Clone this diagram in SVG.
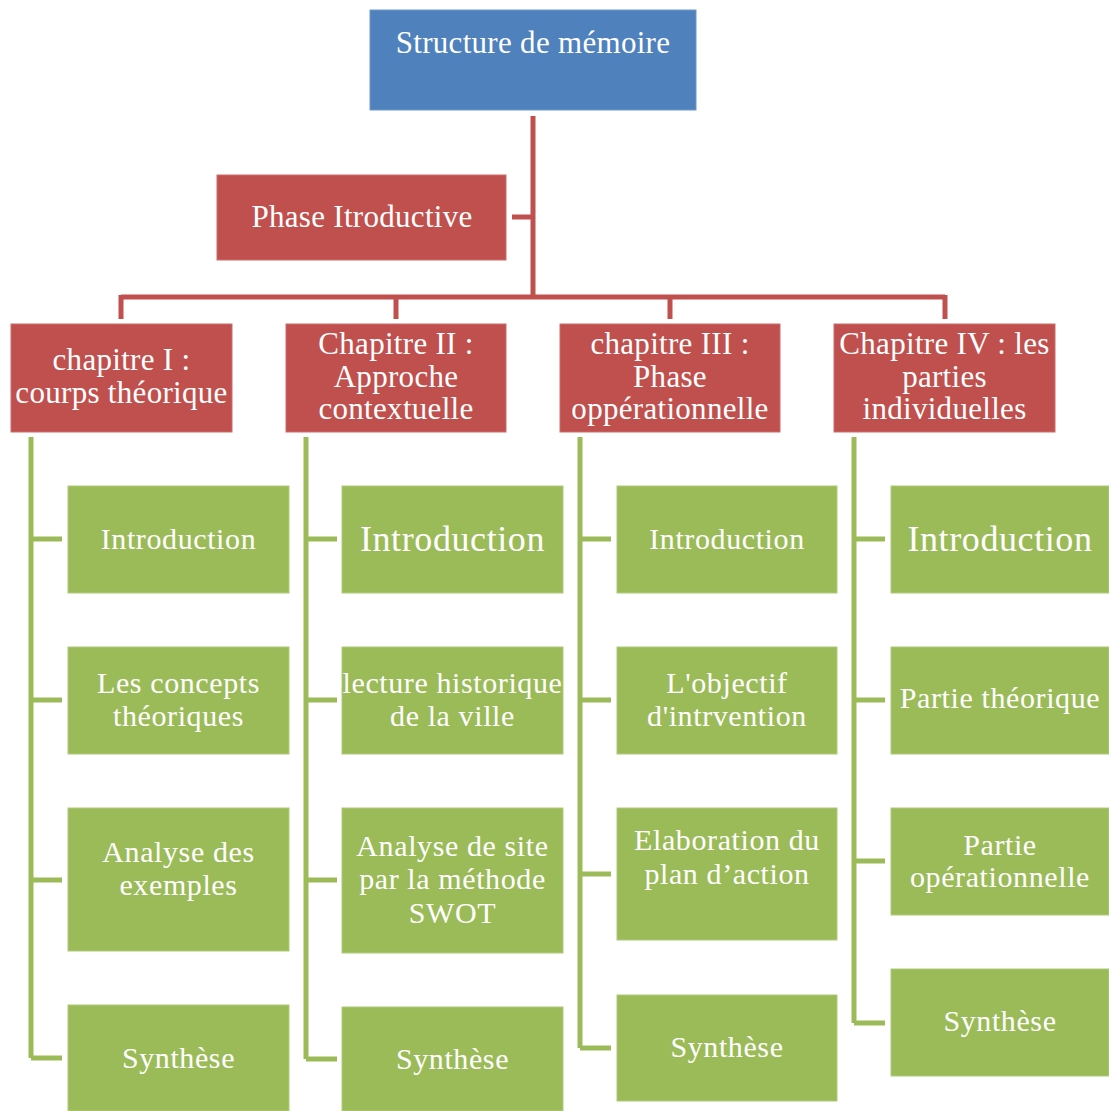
<svg xmlns="http://www.w3.org/2000/svg" width="1109" height="1111" viewBox="0 0 1109 1111">
<style>
text{font-family:"Liberation Serif","Times New Roman",serif;fill:#fff;text-anchor:middle}
.t{font-size:30px;letter-spacing:0.6px}
.r{font-size:31px;letter-spacing:0.3px}
.big{font-size:36px;letter-spacing:0.6px}
.blue{fill:#4F81BD;stroke:#6f98c9;stroke-width:1}
.red{fill:#C0504D;stroke:#cc6e6b;stroke-width:1}
.green{fill:#9BBB59;stroke:#b0ca7d;stroke-width:1}
.rl{fill:none;stroke:#C0504D;stroke-width:5}
.gl{fill:none;stroke:#9BBB59;stroke-width:5}
</style>
<rect width="1109" height="1111" fill="#fff"/>
<g id="connectors">
<path class="rl" d="M533 116V297M512 217H533M121 297H945M121 295V319M396 295V319M670 295V319M945 295V319"/>
<path class="gl" d="M31 437V1058M31 539H62M31 700H62M31 880H62M31 1058H62"/>
<path class="gl" d="M306 437V1059M306 539H337M306 700H337M306 880H337M306 1059H337"/>
<path class="gl" d="M580 437V1048M580 539H611M580 700H611M580 874H611M580 1048H611"/>
<path class="gl" d="M854 437V1023M854 539H885M854 700H885M854 861H885M854 1023H885"/>
</g>
<g id="root"><rect class="blue" x="370" y="10" width="326" height="100"/><text class="r" x="533" y="53">Structure de mémoire</text></g>
<g id="phase"><rect class="red" x="217" y="175" width="289" height="85"/><text class="r" x="362" y="227">Phase Itroductive</text></g>
<g id="ch1"><rect class="red" x="11" y="324" width="221" height="108"/><text class="r" x="121.5" y="370">chapitre I :</text><text class="r" x="121.5" y="403">courps théorique</text></g>
<g id="ch2"><rect class="red" x="286" y="324" width="220" height="108"/><text class="r" x="396" y="354">Chapitre II :</text><text class="r" x="396" y="387">Approche</text><text class="r" x="396" y="419">contextuelle</text></g>
<g id="ch3"><rect class="red" x="560" y="324" width="220" height="108"/><text class="r" x="670" y="354">chapitre III :</text><text class="r" x="670" y="387">Phase</text><text class="r" x="670" y="419">oppérationnelle</text></g>
<g id="ch4"><rect class="red" x="834" y="324" width="221" height="108"/><text class="r" x="944.5" y="354">Chapitre IV : les</text><text class="r" x="944.5" y="387">parties</text><text class="r" x="944.5" y="419">individuelles</text></g>

<g id="c1a"><rect class="green" x="68" y="486" width="221" height="107"/><text class="t" x="178.5" y="549">Introduction</text></g>
<g id="c1b"><rect class="green" x="68" y="647" width="221" height="107"/><text class="t" x="178.5" y="693">Les concepts</text><text class="t" x="178.5" y="726">théoriques</text></g>
<g id="c1c"><rect class="green" x="68" y="808" width="221" height="143"/><text class="t" x="178.5" y="862">Analyse des</text><text class="t" x="178.5" y="895">exemples</text></g>
<g id="c1d"><rect class="green" x="68" y="1005" width="221" height="106"/><text class="t" x="178.5" y="1068">Synthèse</text></g>

<g id="c2a"><rect class="green" x="342" y="486" width="221" height="107"/><text class="big" x="452.5" y="551">Introduction</text></g>
<g id="c2b"><rect class="green" x="342" y="647" width="221" height="107"/><text class="t" x="452.5" y="693">lecture historique</text><text class="t" x="452.5" y="726">de la ville</text></g>
<g id="c2c"><rect class="green" x="342" y="808" width="221" height="145"/><text class="t" x="452.5" y="856">Analyse de site</text><text class="t" x="452.5" y="889">par la méthode</text><text class="t" x="452.5" y="923">SWOT</text></g>
<g id="c2d"><rect class="green" x="342" y="1007" width="221" height="104"/><text class="t" x="452.5" y="1069">Synthèse</text></g>

<g id="c3a"><rect class="green" x="617" y="486" width="220" height="107"/><text class="t" x="727" y="549">Introduction</text></g>
<g id="c3b"><rect class="green" x="617" y="647" width="220" height="107"/><text class="t" x="727" y="693">L'objectif</text><text class="t" x="727" y="726">d'intrvention</text></g>
<g id="c3c"><rect class="green" x="617" y="808" width="220" height="132"/><text class="t" x="727" y="850">Elaboration du</text><text class="t" x="727" y="884">plan d’action</text></g>
<g id="c3d"><rect class="green" x="617" y="995" width="220" height="106"/><text class="t" x="727" y="1057">Synthèse</text></g>

<g id="c4a"><rect class="green" x="891" y="486" width="218" height="107"/><text class="big" x="1000" y="551">Introduction</text></g>
<g id="c4b"><rect class="green" x="891" y="647" width="218" height="107"/><text class="t" x="1000" y="708">Partie théorique</text></g>
<g id="c4c"><rect class="green" x="891" y="808" width="218" height="107"/><text class="t" x="1000" y="855">Partie</text><text class="t" x="1000" y="887">opérationnelle</text></g>
<g id="c4d"><rect class="green" x="891" y="969" width="218" height="107"/><text class="t" x="1000" y="1031">Synthèse</text></g>
</svg>
